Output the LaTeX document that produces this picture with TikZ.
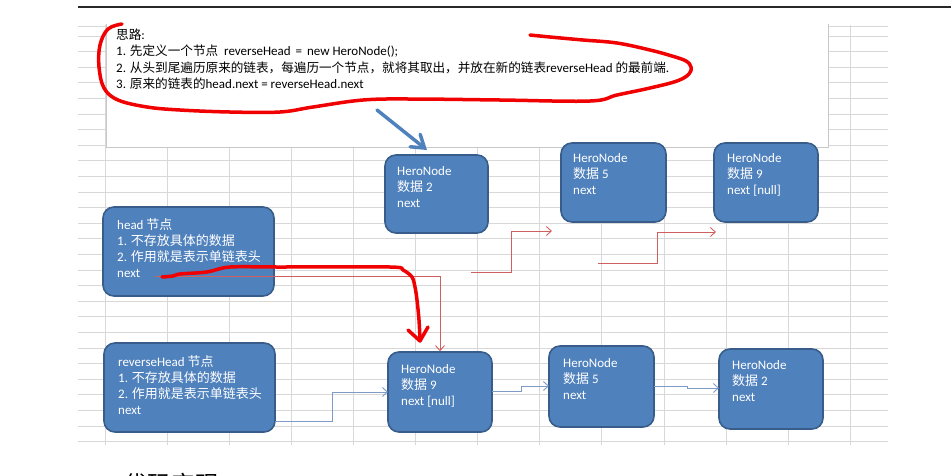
\documentclass[tikz,border=0pt]{standalone}
\usepackage{fontspec}
\setmainfont{Carlito}
\newfontfamily\cjk{Noto Sans CJK SC}
\newfontfamily\cjktop[Scale=0.97]{Noto Sans CJK SC}
\usetikzlibrary{arrows.meta}
\newcommand\zh[1]{{\cjk #1}}
\newcommand\zt[1]{{\cjktop #1}}
\definecolor{nodefill}{RGB}{79,129,189}
\definecolor{nodeborder}{RGB}{56,93,138}
\definecolor{gridc}{RGB}{216,216,216}
\definecolor{boxborder}{RGB}{200,200,200}
\definecolor{redlinkc}{RGB}{210,95,95}
\definecolor{bluelinkc}{RGB}{125,155,198}
\definecolor{penred}{RGB}{240,0,0}
\definecolor{toplinec}{RGB}{40,40,40}
\tikzset{
  gridline/.style={draw=gridc, line width=0.8pt},
  hbox/.style={draw=nodeborder, fill=nodefill, line width=1.6pt, rounded corners=11pt, inner sep=0pt},
  ntext/.style={anchor=north west, inner sep=0pt, align=left, text=white, font=\fontsize{13}{16}\selectfont},
  toptext/.style={anchor=north west, inner sep=0pt, align=left, text=black, font=\fontsize{13}{16.3}\selectfont},
  redlink/.style={draw=redlinkc, line width=0.9pt, -{Straight Barb[length=5pt,width=9pt]}},
  bluelink/.style={draw=bluelinkc, line width=0.9pt, -{Straight Barb[length=5pt,width=9pt]}},
  bigblue/.style={draw=nodefill, line width=3.5pt, line cap=round, -{Straight Barb[length=12pt,width=16pt,line cap=round]}},
  penline/.style={draw=penred, line width=3.5pt, line cap=round, line join=round},
}
\begin{document}
\begin{tikzpicture}[x=1pt,y=-1pt]
\useasboundingbox (0,0) rectangle (951,475);
\clip (0,0) rectangle (951,475);
\fill[white] (0,0) rectangle (951,475);
% top rule
\draw[draw=toplinec, line width=1.5pt] (78,7) -- (951,7);
% grid
\draw[gridline] (78,26.5) -- (888,26.5);
\foreach \k in {0,...,26} \draw[gridline] (78,{36+15.6*\k}) -- (888,{36+15.6*\k});
\foreach \k in {0,...,12} \draw[gridline] ({105+62.1*\k},25) -- ({105+62.1*\k},445);
% text box
\fill[white] (106,24) rectangle (828,147);
\draw[draw=boxborder, line width=0.8pt] (106,24) -- (106,147) -- (828,147) -- (828,24);
\node[toptext] (idea) at (116,27.8) {\strut\zt{思路}:\\1. \zt{先定义一个节点}\hspace{3pt} reverseHead\hspace{2pt} = \hspace{2pt}new HeroNode();\\2. \zt{从头到尾遍历原来的链表，每遍历一个节点，就将其取出，并放在新的链表}reverseHead \zt{的最前端}.\\3. \zt{原来的链表的}head.next = reverseHead.next};
% nodes
\node[hbox, minimum width=103pt, minimum height=78pt] (h2t) at (436.5,194) {};
\node[hbox, minimum width=105pt, minimum height=79pt] (h5t) at (613.5,182.5) {};
\node[hbox, minimum width=104pt, minimum height=79pt] (h9t) at (766,182.5) {};
\node[hbox, minimum width=171pt, minimum height=89pt] (head) at (188.5,251.5) {};
\node[hbox, minimum width=171pt, minimum height=89pt] (rh) at (189.5,387.5) {};
\node[hbox, minimum width=104pt, minimum height=80pt] (h9b) at (440,392) {};
\node[hbox, minimum width=105pt, minimum height=81pt] (h5b) at (601.5,386.5) {};
\node[hbox, minimum width=104pt, minimum height=80pt] (h2b) at (771,389) {};
% node texts
\node[ntext] (h2tT) at (397,163.8) {\strut HeroNode\\\zh{数据} 2\\next};
\node[ntext] (h5tT) at (573,150.8) {\strut HeroNode\\\zh{数据} 5\\next};
\node[ntext] (h9tT) at (727,150.8) {\strut HeroNode\\\zh{数据} 9\\next [null]};
\node[ntext] (headT) at (117,217.8) {\strut head \zh{节点}\\1. \zh{不存放具体的数据}\\2. \zh{作用就是表示单链表头}\\next};
\node[ntext] (rhT) at (118,354.8) {\strut reverseHead \zh{节点}\\1. \zh{不存放具体的数据}\\2. \zh{作用就是表示单链表头}\\next};
\node[ntext] (h9bT) at (401,361.8) {\strut HeroNode\\\zh{数据} 9\\next [null]};
\node[ntext] (h5bT) at (563,355.8) {\strut HeroNode\\\zh{数据} 5\\next};
\node[ntext] (h2bT) at (732,357.8) {\strut HeroNode\\\zh{数据} 2\\next};
% connector end points
\coordinate (hs) at (155,276);
\coordinate (c1s) at (471,272);
\coordinate (c1e) at (552,231);
\coordinate (c2s) at (598,263.5);
\coordinate (c2e) at (716,232);
\coordinate (b1s) at (275,421);
\coordinate (b1e) at (388,392);
\coordinate (b2s) at (492,391);
\coordinate (b2e) at (549,386);
\coordinate (b3s) at (654,386);
\coordinate (b3e) at (719,388);
% red (original) links
\draw[redlink] (hs) -| (h9b.north);
\draw[redlink] (c1s) -- ++(40,0) |- (c1e);
\draw[redlink] (c2s) -- ++(59,0) |- (c2e);
% blue (reversed) links
\draw[bluelink] (b1s) -- ++(57,0) |- (b1e);
\draw[bluelink] (b2s) -- ++(29,0) |- (b2e);
\draw[bluelink] (b3s) -- ++(33,0) |- (b3e);
% big blue arrow
\coordinate (ba1) at (377,110);
\coordinate (ba2) at (427,150);
\draw[bigblue] (ba1) -- (ba2);
% red pen ellipse
\draw[penline] plot[smooth, tension=0.6] coordinates {(122,24) (108,29) (100,45) (99,67) (104,88) (118,100) (147,107) (180,110) (230,112) (280,112) (313,107) (363,100) (413,99) (500,100) (590,101) (617,95) (650,88) (677,81) (689,74) (691,67) (686,61) (672,56) (650,50) (617,43) (583,40) (550,37) (530,35)};
% red pen arrow
\draw[penline] plot[smooth, tension=0.5] coordinates {(162,277) (173,276) (180,274) (207,272) (230,267) (280,267) (390,267) (403,270) (412,277) (415,287) (417,300) (419,320) (420,339)};
\draw[penline] (408,330) -- (420,341) -- (428,327);
% partially visible heading
\node[anchor=base west, inner sep=0pt, font=\cjk\fontsize{24}{28}\selectfont] (code) at (123,493) {代码实现};
\end{tikzpicture}
\end{document}
